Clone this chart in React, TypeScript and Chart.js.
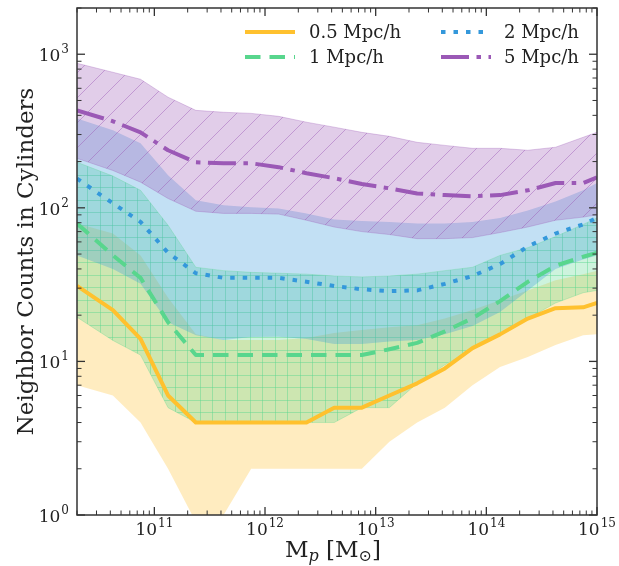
import React, { useEffect, useRef } from "react";
import { Chart, registerables } from "chart.js";

Chart.register(...registerables);

// Halo mass bins (M_sun)
const massBins = [
  2.0e10, 4.22e10, 7.5e10, 1.33e11, 2.37e11, 4.22e11, 7.5e11, 1.33e12, 2.37e12, 4.22e12,
  7.5e12, 1.33e13, 2.37e13, 4.22e13, 7.5e13, 1.33e14, 2.37e14, 4.22e14, 7.5e14, 1.0e15,
];

// 0.5 Mpc/h
const med05 = [31, 21.6, 14, 6, 4, 4, 4, 4, 4, 5, 5, 6, 7.2, 9, 12.2, 15, 19, 22.2, 22.5, 24];
const lo05 = [7, 6, 4, 2, 0.9, 1.0, 2, 2, 2, 2, 2, 3, 4, 5, 7, 9.2, 10.7, 12.8, 14.8, 15];
const hi05 = [79, 68, 49, 26, 15, 13.8, 13.8, 13.8, 14.2, 15.3, 16, 16.7, 17.2, 19, 21.6, 25, 29, 33.8, 37, 39];

// 1 Mpc/h
const med1 = [79, 49, 35, 18, 11, 11, 11, 11, 11, 11, 11, 12, 13.2, 15.7, 19.1, 24.7, 33, 42, 48, 51];
const lo1 = [19.4, 13.7, 11, 5, 4, 4, 4, 4, 4, 4, 5, 5, 7.2, 9.5, 12, 15, 19, 24, 28, 29];
const hi1 = [198, 161, 130, 77, 41, 39, 38, 37.5, 37, 36, 35.5, 36, 37, 39, 41, 49, 55, 65, 78, 86];

// 2 Mpc/h
const med2 = [155, 107, 81, 51, 37.5, 35, 35, 35, 33, 31, 29.5, 28.7, 29, 32, 36, 43, 56, 68, 78, 86];
const lo2 = [49, 40, 32, 18, 14.8, 13.8, 14.4, 14.5, 14, 13, 13, 13.5, 13.8, 15, 17, 21, 29, 40, 46, 49];
const hi2 = [382, 320, 263, 163, 112, 104, 101, 99, 92, 84, 82, 81, 79, 79, 81, 86, 96, 110, 130, 145];

// 5 Mpc/h
const med5 = [431, 366, 310, 237, 198, 195, 195, 184, 168, 156, 143, 134, 124, 121, 119, 121, 130, 145, 145, 158];
const lo5 = [210, 175, 147, 115, 95, 92, 92, 91, 83, 75, 70, 67, 63, 63, 64, 69, 75, 83, 87, 90];
const hi5 = [873, 763, 687, 525, 431, 419, 412, 394, 361, 335, 310, 292, 267, 255, 244, 244, 237, 248, 288, 310];

const seriesLabels = ["0.5 Mpc/h", "1 Mpc/h", "2 Mpc/h", "5 Mpc/h"];
const xTickExps = [11, 12, 13, 14, 15];
const yTickExps = [0, 1, 2, 3];
const yTitle = "Neighbor Counts in Cylinders";

const C05 = "#FFC12E";
const C1 = "#58D68D";
const C2 = "#3498DB";
const C5 = "#9B59B6";

const FONT = '"DejaVu Serif", serif';

function makeGrid(ctx: CanvasRenderingContext2D, color: string) {
  const c = document.createElement("canvas");
  c.width = 25;
  c.height = 25;
  const g = c.getContext("2d")!;
  g.strokeStyle = color;
  g.lineWidth = 1;
  g.beginPath();
  g.moveTo(0.5, 0); g.lineTo(0.5, 25);
  g.moveTo(12.5, 0); g.lineTo(12.5, 25);
  g.moveTo(0, 0.5); g.lineTo(25, 0.5);
  g.moveTo(0, 12.5); g.lineTo(25, 12.5);
  g.stroke();
  return ctx.createPattern(c, "repeat")!;
}

function makeDiag(ctx: CanvasRenderingContext2D, color: string) {
  const c = document.createElement("canvas");
  c.width = 25;
  c.height = 25;
  const g = c.getContext("2d")!;
  g.strokeStyle = color;
  g.lineWidth = 1;
  g.beginPath();
  for (const x0 of [-25, 0, 25]) {
    g.moveTo(x0, 25);
    g.lineTo(x0 + 25, 0);
  }
  g.stroke();
  return ctx.createPattern(c, "repeat")!;
}

function drawPow(ctx: CanvasRenderingContext2D, exp: number, x: number, y: number, align: "center" | "right") {
  ctx.font = `17px ${FONT}`;
  const w1 = ctx.measureText("10").width;
  ctx.font = `12px ${FONT}`;
  const es = String(exp);
  const w2 = ctx.measureText(es).width;
  const total = w1 + w2 + 1;
  const sx = align === "center" ? x - total / 2 : x - total;
  ctx.textAlign = "left";
  ctx.textBaseline = "alphabetic";
  ctx.font = `17px ${FONT}`;
  ctx.fillText("10", sx, y);
  ctx.font = `12px ${FONT}`;
  ctx.fillText(es, sx + w1 + 1, y - 8);
}

const decor = {
  id: "decor",
  afterDraw(chart: any) {
    const { ctx, chartArea: a, scales } = chart;
    const xs = scales.x;
    const ys = scales.y;
    ctx.save();
    ctx.strokeStyle = "#333333";
    ctx.fillStyle = "#222222";

    const seg = (x1: number, y1: number, x2: number, y2: number, w: number) => {
      ctx.lineWidth = w;
      ctx.beginPath();
      ctx.moveTo(x1, y1);
      ctx.lineTo(x2, y2);
      ctx.stroke();
    };

    // ticks
    const xMinor: number[] = [];
    for (let e = 10; e <= 14; e++) for (let m = 2; m <= 9; m++) {
      const v = m * Math.pow(10, e);
      if (v >= xs.min && v <= xs.max) xMinor.push(v);
    }
    const yMinor: number[] = [];
    for (let e = 0; e <= 3; e++) for (let m = 2; m <= 9; m++) {
      const v = m * Math.pow(10, e);
      if (v >= ys.min && v <= ys.max) yMinor.push(v);
    }
    for (const v of xMinor) {
      const p = xs.getPixelForValue(v);
      seg(p, a.bottom, p, a.bottom - 4.5, 1);
      seg(p, a.top, p, a.top + 4.5, 1);
    }
    for (const e of xTickExps) {
      const p = xs.getPixelForValue(Math.pow(10, e));
      seg(p, a.bottom, p, a.bottom - 8, 1.3);
      seg(p, a.top, p, a.top + 8, 1.3);
    }
    for (const v of yMinor) {
      const p = ys.getPixelForValue(v);
      seg(a.left, p, a.left + 4.5, p, 1);
      seg(a.right, p, a.right - 4.5, p, 1);
    }
    for (const e of yTickExps) {
      const p = ys.getPixelForValue(Math.pow(10, e));
      seg(a.left, p, a.left + 8, p, 1.3);
      seg(a.right, p, a.right - 8, p, 1.3);
    }

    // spines
    ctx.lineWidth = 1.5;
    ctx.strokeRect(a.left, a.top, a.right - a.left, a.bottom - a.top);

    // tick labels
    for (const e of xTickExps) {
      const p = xs.getPixelForValue(Math.pow(10, e));
      drawPow(ctx, e, p, a.bottom + 20, "center");
    }
    for (const e of yTickExps) {
      const p = ys.getPixelForValue(Math.pow(10, e));
      drawPow(ctx, e, a.left - 8, p + 7, "right");
    }

    // y title
    ctx.save();
    ctx.translate(33, (a.top + a.bottom) / 2);
    ctx.rotate(-Math.PI / 2);
    ctx.font = `23px ${FONT}`;
    ctx.textAlign = "center";
    ctx.textBaseline = "alphabetic";
    ctx.fillText(yTitle, 0, 0);
    ctx.restore();

    // x title: M_p [M_sun]
    {
      const big = `23px ${FONT}`;
      const subI = `italic 16px ${FONT}`;
      const sub = `16px ${FONT}`;
      const parts: [string, string, number][] = [
        ["M", big, 0],
        ["p", subI, 4],
        [" [M", big, 0],
        ["\u2299", sub, 4],
        ["]", big, 0],
      ];
      let total = 0;
      const widths = parts.map(([t, f]) => {
        ctx.font = f;
        const w = ctx.measureText(t).width;
        total += w;
        return w;
      });
      let cx = (a.left + a.right) / 2 - 4 - total / 2;
      const base = 557;
      ctx.textAlign = "left";
      parts.forEach(([t, f, dy], i) => {
        ctx.font = f;
        ctx.fillText(t, cx, base + dy);
        cx += widths[i];
      });
    }

    // legend
    const items: [string, string, number[], number, number, number][] = [
      [seriesLabels[0], C05, [], 245, 32, 309],
      [seriesLabels[1], C1, [15.5, 9], 245, 57, 309],
      [seriesLabels[2], C2, [4.5, 8], 441, 32, 504],
      [seriesLabels[3], C5, [28, 7.5, 4.5, 7.5], 441, 57, 504],
    ];
    for (const [label, color, dash, lx, ly, tx] of items) {
      ctx.save();
      ctx.strokeStyle = color;
      ctx.lineWidth = 4;
      ctx.lineCap = "butt";
      ctx.setLineDash(dash);
      ctx.beginPath();
      ctx.moveTo(lx, ly);
      ctx.lineTo(lx + 50, ly);
      ctx.stroke();
      ctx.restore();
      ctx.font = `18px ${FONT}`;
      ctx.fillStyle = "#222222";
      ctx.textAlign = "left";
      ctx.fillText(label, tx, ly + 6);
    }
    ctx.restore();
  },
};

export default function App() {
  const ref = useRef<HTMLCanvasElement>(null);
  useEffect(() => {
    const canvas = ref.current!;
    const ctx = canvas.getContext("2d")!;
    const gridPat = makeGrid(ctx, "rgba(88,214,141,0.45)");
    const diagPat = makeDiag(ctx, "rgba(155,89,182,0.45)");
    const pts = (arr: number[]) => massBins.map((m, i) => ({ x: m, y: arr[i] }));
    const none = "rgba(0,0,0,0)";
    const band = (arr: number[], extra: any) => ({
      data: pts(arr),
      pointRadius: 0,
      borderWidth: 1,
      borderColor: none,
      backgroundColor: none,
      fill: false,
      tension: 0,
      clip: 0,
      ...extra,
    });
    const line = (label: string, arr: number[], color: string, dash: number[]) => ({
      label,
      data: pts(arr),
      borderColor: color,
      backgroundColor: color,
      borderWidth: 4,
      borderDash: dash,
      borderCapStyle: "butt",
      borderJoinStyle: "round",
      pointRadius: 0,
      fill: false,
      tension: 0,
      clip: 0,
    });

    const datasets: any[] = [
      line(seriesLabels[3], med5, C5, [28, 7.5, 4.5, 7.5]), // 0
      line(seriesLabels[2], med2, C2, [4.5, 8]), // 1
      line(seriesLabels[1], med1, C1, [15.5, 9]), // 2
      line(seriesLabels[0], med05, C05, []), // 3
      band(lo5, { borderColor: "rgba(155,89,182,0.3)" }), // 4
      band(hi5, { fill: { target: 4 }, backgroundColor: diagPat, borderColor: "rgba(155,89,182,0.3)" }), // 5
      band(hi5, { fill: { target: 4 }, backgroundColor: "rgba(155,89,182,0.3)" }), // 6
      band(lo2, {}), // 7
      band(hi2, { fill: { target: 7 }, backgroundColor: "rgba(52,152,219,0.3)" }), // 8
      band(lo1, { borderColor: "rgba(88,214,141,0.3)" }), // 9
      band(hi1, { fill: { target: 9 }, backgroundColor: gridPat, borderColor: "rgba(88,214,141,0.3)" }), // 10
      band(hi1, { fill: { target: 9 }, backgroundColor: "rgba(88,214,141,0.3)" }), // 11
      band(lo05, {}), // 12
      band(hi05, { fill: { target: 12 }, backgroundColor: "rgba(255,193,46,0.3)" }), // 13
    ];

    const chart = new Chart(canvas, {
      type: "line",
      data: { datasets },
      options: {
        responsive: false,
        animation: false,
        devicePixelRatio: 1,
        events: [],
        layout: { padding: { left: 77, top: 8, right: 22, bottom: 51 } },
        scales: {
          x: { type: "logarithmic", min: 2e10, max: 1e15, display: false },
          y: { type: "logarithmic", min: 1, max: 2000, display: false },
        },
        plugins: {
          legend: { display: false },
          tooltip: { enabled: false },
          filler: { drawTime: "beforeDatasetsDraw" },
        },
      } as any,
      plugins: [decor],
    });
    return () => chart.destroy();
  }, []);

  return (
    <div style={{ position: "absolute", left: 0, top: 0, width: 619, height: 566, background: "#ffffff" }}>
      <canvas ref={ref} width={619} height={566} style={{ display: "block", width: 619, height: 566 }} />
    </div>
  );
}
